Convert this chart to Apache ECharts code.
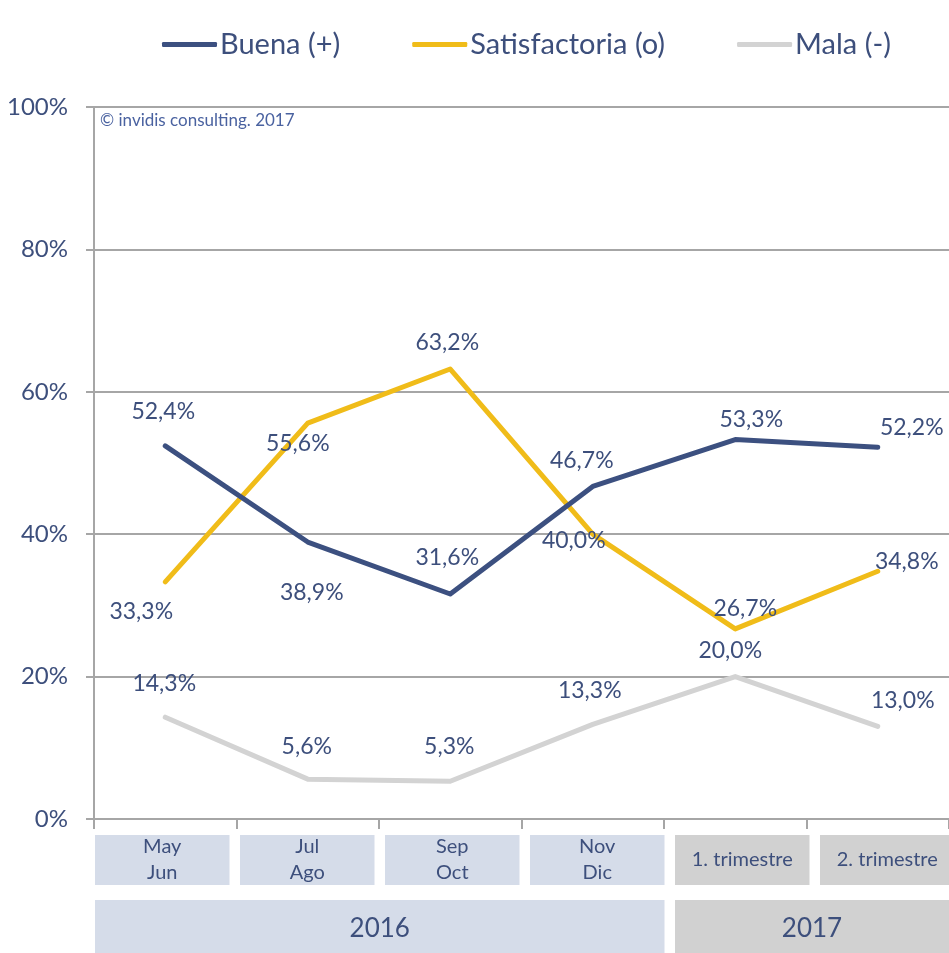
<!DOCTYPE html>
<html>
<head>
<meta charset="utf-8">
<script src="https://cdn.jsdelivr.net/npm/echarts@6/dist/echarts.min.js"></script>
<style>
  html, body { margin: 0; padding: 0; background: #fff; }
  #main { width: 949px; height: 953px; }
</style>
</head>
<body>
<div id="main"></div>
<script>
// datos
const periods = ['May\nJun', 'Jul\nAgo', 'Sep\nOct', 'Nov\nDic', '1. trimestre', '2. trimestre'];
const periodYear = ['2016', '2016', '2016', '2016', '2017', '2017'];
const years = ['2016', '2017'];
const buena = [52.4, 38.9, 31.6, 46.7, 53.3, 52.2];
const satisfactoria = [33.3, 55.6, 63.2, 40.0, 26.7, 34.8];
const mala = [14.3, 5.6, 5.3, 13.3, 20.0, 13.0];
const yTicks = [0, 20, 40, 60, 80, 100];

const TXT = '#3d4f7c';
const FONT = 'Lato';
const BOX = { '2016': '#d5dce9', '2017': '#d1d1d1' };

// desplazamiento de etiquetas (centro del texto respecto al punto)
const offBuena = [[-2, -34], [4, 51], [-3, -36], [-11, -26], [16, -20], [34, -20]];
const offSatis = [[-24, 30], [-10, 20], [-3, -26], [-19, 6], [10, -20], [29, -10]];
const offMala = [[-1, -34], [-1, -33], [-1, -35], [-3, -34], [-5, -26], [25, -26]];

const fmt = (v) => v.toFixed(1).replace('.', ',') + '%';

function lineSeries(name, values, color, offs) {
  return {
    name,
    type: 'line',
    data: values.map((v, i) => ({
      value: v,
      label: { offset: offs[i] }
    })),
    symbol: 'circle',
    symbolSize: 0,
    showSymbol: true,
    itemStyle: { color },
    lineStyle: { color, width: 5, cap: 'round', join: 'round' },
    label: {
      show: true,
      position: 'inside',
      color: TXT,
      fontFamily: FONT,
      fontSize: 23,
      formatter: (p) => fmt(p.value)
    },
    emphasis: { disabled: true },
    z: name === 'Mala (-)' ? 1 : 2
  };
}

const chart = echarts.init(document.getElementById('main'));

chart.setOption({
  animation: false,
  textStyle: { fontFamily: FONT },
  legend: {
    top: 25,
    left: 157,
    icon: 'roundRect',
    itemWidth: 55,
    itemHeight: 5,
    itemGap: 72,
    textStyle: { fontSize: 29, color: TXT, fontFamily: FONT, padding: [0, 0, 0, -2] },
    data: ['Buena (+)', 'Satisfactoria (o)', 'Mala (-)']
  },
  grid: { left: 94, right: 0, top: 107, bottom: 134, containLabel: false },
  xAxis: {
    type: 'category',
    data: periods,
    boundaryGap: true,
    axisLine: { lineStyle: { color: '#a6a6a6', width: 2 } },
    axisTick: { show: true, length: 10, lineStyle: { color: '#a6a6a6', width: 2 } },
    axisLabel: { show: false },
    splitLine: { show: false }
  },
  yAxis: {
    type: 'value',
    min: 0,
    max: 100,
    interval: 20,
    axisLine: { show: true, lineStyle: { color: '#a6a6a6', width: 2 } },
    axisTick: { show: true, length: 8, lineStyle: { color: '#a6a6a6', width: 2 } },
    axisLabel: {
      color: TXT,
      fontSize: 24,
      fontFamily: FONT,
      margin: 26,
      formatter: (v) => yTicks.includes(v) ? v + '%' : ''
    },
    splitLine: { show: true, lineStyle: { color: '#a6a6a6', width: 2 } }
  },
  series: [
    lineSeries('Mala (-)', mala, '#d3d3d3', offMala),
    lineSeries('Satisfactoria (o)', satisfactoria, '#f0bc19', offSatis),
    lineSeries('Buena (+)', buena, '#3c5080', offBuena)
  ]
});

// cajas de categorías y años bajo el eje, a partir de la escala del eje
const step = chart.convertToPixel({ xAxisIndex: 0 }, 1) - chart.convertToPixel({ xAxisIndex: 0 }, 0);
const axisY = chart.convertToPixel({ yAxisIndex: 0 }, 0);
const graphics = [];
const boxW = step - 8;
const boxLeft = (i) => chart.convertToPixel({ xAxisIndex: 0 }, i) - step / 2 + 1 + i * 2.5;
periods.forEach((p, i) => {
  graphics.push({
    type: 'rect',
    shape: { x: boxLeft(i), y: axisY + 16, width: boxW, height: 50 },
    style: { fill: BOX[periodYear[i]] },
    textContent: {
      style: {
        text: p,
        fill: TXT,
        fontFamily: FONT,
        fontSize: 20,
        lineHeight: 26,
        align: 'center'
      }
    },
    textConfig: { position: 'inside' }
  });
});
years.forEach((y) => {
  const idx = periodYear.map((v, i) => v === y ? i : -1).filter((i) => i >= 0);
  const first = idx[0], last = idx[idx.length - 1];
  const x0 = boxLeft(first);
  const x1 = Math.min(949, boxLeft(last) + boxW);
  graphics.push({
    type: 'rect',
    shape: { x: x0, y: axisY + 81, width: x1 - x0, height: 60 },
    style: { fill: BOX[y] },
    textContent: {
      style: { text: y, fill: TXT, fontFamily: FONT, fontSize: 26, align: 'center', verticalAlign: 'middle' }
    },
    textConfig: { position: [(x1 - x0) / 2, 29] }
  });
});
graphics.push({
  type: 'text',
  left: 100,
  top: 112,
  style: { text: '© invidis consulting. 2017', fill: '#4a62a0', fontFamily: FONT, fontSize: 17 }
});
chart.setOption({ graphic: graphics });
</script>
</body>
</html>
